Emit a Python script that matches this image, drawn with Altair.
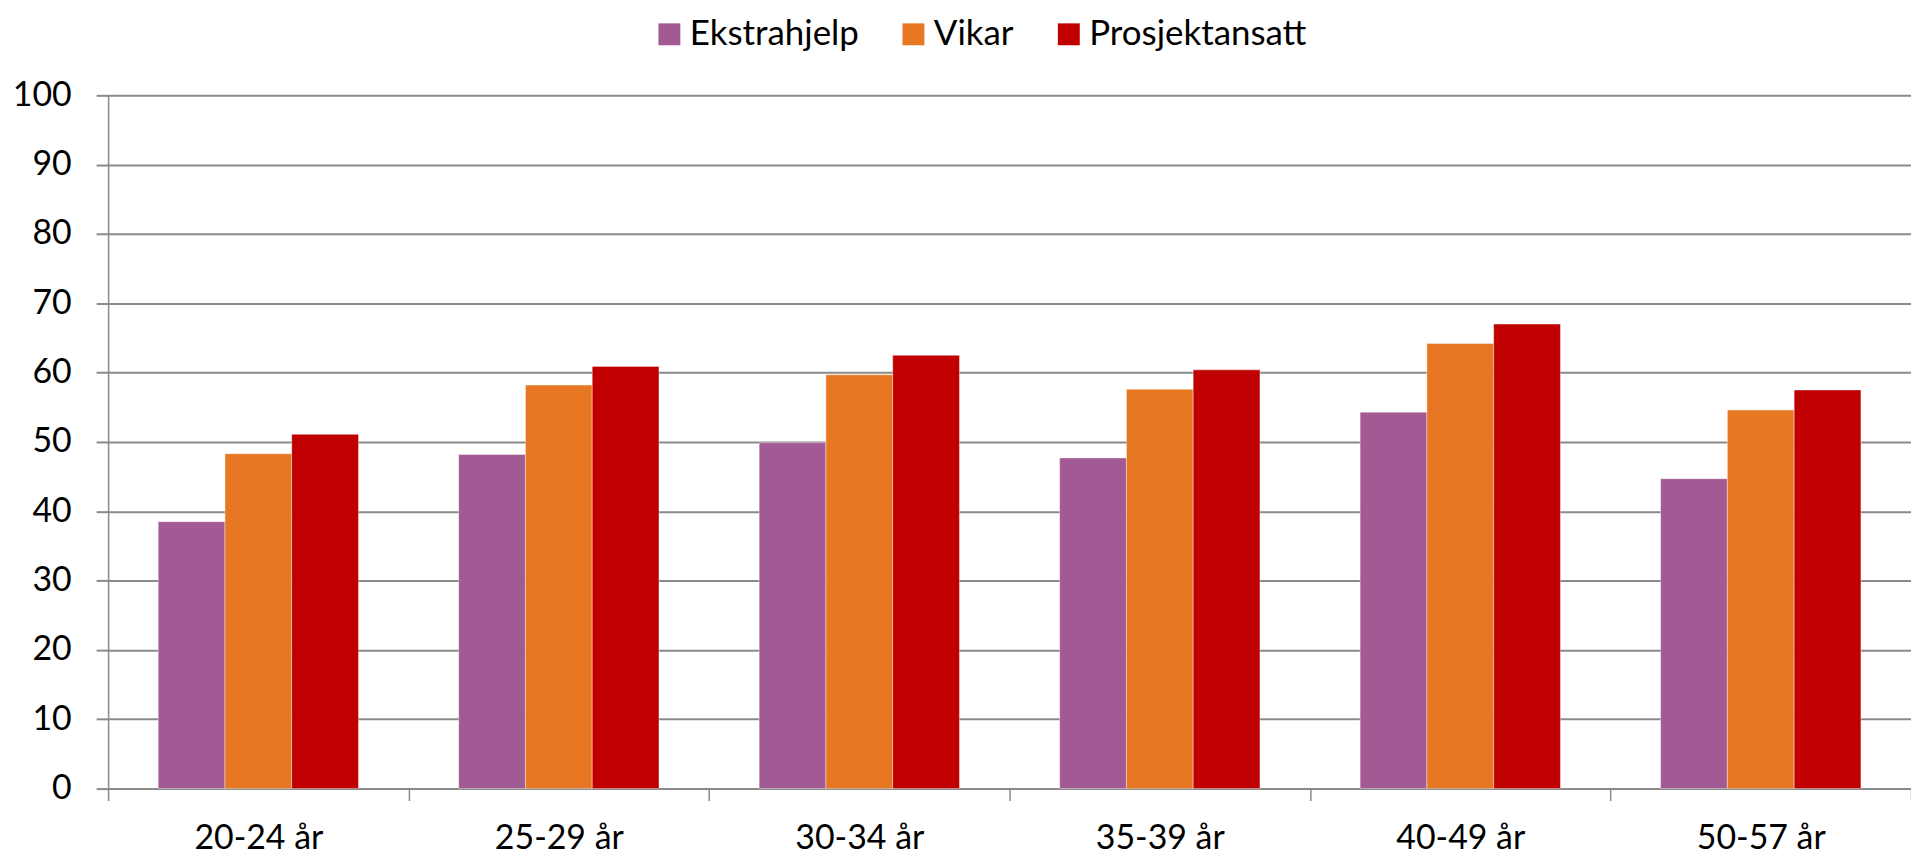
import altair as alt
import pandas as pd

categories = ["20-24 år", "25-29 år", "30-34 år", "35-39 år", "40-49 år", "50-57 år"]
series = ["Ekstrahjelp", "Vikar", "Prosjektansatt"]
ekstrahjelp = [38.5, 48.2, 49.9, 47.7, 54.3, 44.7]
vikar = [48.3, 58.2, 59.7, 57.6, 64.2, 54.6]
prosjektansatt = [51.1, 60.9, 62.5, 60.4, 67.0, 57.5]
colors = ["#A25A94", "#E77722", "#C00000"]
y_ticks = list(range(0, 101, 10))

rows = []
for name, vals in zip(series, [ekstrahjelp, vikar, prosjektansatt]):
    for c, v in zip(categories, vals):
        rows.append({"Alder": c, "Serie": name, "Verdi": v})
df = pd.DataFrame(rows)

FONT = "Lato"
GRAY = "#8a8a8a"

chart = alt.Chart(df).mark_bar(
    stroke="#ffffff", strokeWidth=0.8, strokeOpacity=0.5
).encode(
    x=alt.X("Alder:N", sort=categories, title=None,
            scale=alt.Scale(paddingInner=0, paddingOuter=0),
            axis=alt.Axis(tickBand="extent", tickSize=12, tickColor=GRAY, tickWidth=1.5,
                          domainColor=GRAY, domainWidth=2, labelAngle=0,
                          labelFont=FONT, labelFontSize=34, labelColor="#000000",
                          labelPadding=21, grid=False)),
    xOffset=alt.XOffset("Serie:N", sort=series,
                        scale=alt.Scale(paddingInner=0, paddingOuter=0.75)),
    y=alt.Y("Verdi:Q", title=None,
            scale=alt.Scale(domain=[0, 100], nice=False),
            axis=alt.Axis(values=y_ticks, tickSize=12, tickColor=GRAY, tickWidth=2,
                          domainColor=GRAY, domainWidth=1.5,
                          gridColor=GRAY, gridWidth=2,
                          labelFont=FONT, labelFontSize=34, labelColor="#000000",
                          labelPadding=25)),
    color=alt.Color("Serie:N", sort=series,
                    scale=alt.Scale(domain=series, range=colors),
                    legend=alt.Legend(orient="none", direction="horizontal",
                                      legendX=546, legendY=-79,
                                      title=None, symbolType="square",
                                      symbolSize=484, symbolStrokeWidth=0,
                                      labelFont=FONT, labelFontSize=35,
                                      labelLimit=500,
                                      labelColor="#000000", labelOffset=3,
                                      columnPadding=37)),
).properties(
    width=1810,
    height=696,
    autosize=alt.AutoSizeParams(type="none"),
    padding={"left": 100.5, "top": 86, "right": 0, "bottom": 66},
).configure_view(stroke=None)

chart.save("out.html", embed_options={"renderer": "svg", "actions": False})
